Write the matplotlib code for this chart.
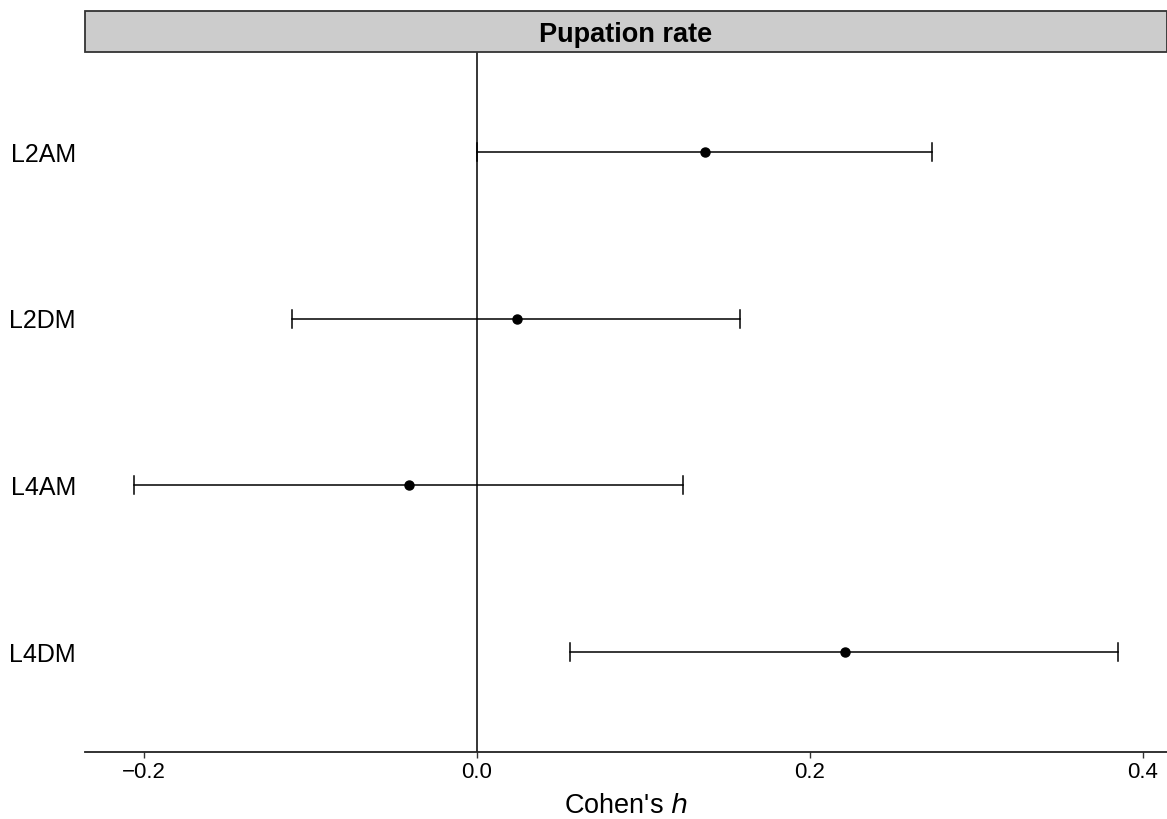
"""Forest plot of Cohen's h for pupation rate."""

import matplotlib.pyplot as plt
from matplotlib.patches import Rectangle

plt.rcParams["font.family"] = ["Liberation Sans", "DejaVu Sans"]

# data
groups = ["L2AM", "L2DM", "L4AM", "L4DM"]
estimate = [0.137, 0.024, -0.041, 0.221]
ci_low = [0.000, -0.111, -0.206, 0.056]
ci_high = [0.273, 0.158, 0.124, 0.385]
xticks = [-0.2, 0.0, 0.2, 0.4]
xtick_labels = ["\u22120.2", "0.0", "0.2", "0.4"]
panel_title = "Pupation rate"

W, H = 1167, 819
fig = plt.figure(figsize=(W / 100, H / 100), dpi=100)
ax = fig.add_axes([85 / W, 1 - 752 / H, (1167 - 85) / W, (752 - 52) / H])

ypos = list(range(1, len(groups) + 1))

ax.axvline(0, color="black", lw=1.1, zorder=1)
for y, lo, hi in zip(ypos, ci_low, ci_high):
    ax.plot([lo, hi], [y, y], color="black", lw=1.1, zorder=2)
    for x in (lo, hi):
        ax.plot([x, x], [y - 0.054, y + 0.054], color="black", lw=1.1, zorder=2)
ax.plot(estimate, ypos, "o", color="black", ms=6.5, zorder=3)

ax.set_ylim(len(groups) + 0.6, 0.4)
ax.set_xlim(-0.2354, 0.4144)
ax.set_yticks(ypos)
ax.set_yticklabels(groups, fontsize=18)
ax.set_xticks(xticks)
ax.set_xticklabels(xtick_labels, fontsize=16)
ax.tick_params(axis="y", length=0, pad=6.5, colors="black")
ax.tick_params(axis="x", length=4.5, width=1, color="#333333", pad=3)
ax.set_xlabel("Cohen's $\\mathit{h}$", fontsize=19.5, labelpad=7)

for side in ("top", "right", "left"):
    ax.spines[side].set_visible(False)
ax.spines["bottom"].set_linewidth(1.3)
ax.spines["bottom"].set_color("#222222")

# facet strip
sax = fig.add_axes([85 / W, 1 - 52 / H, (1167 - 85) / W, 41 / H])
sax.set_xlim(0, 1)
sax.set_ylim(0, 1)
sax.axis("off")
sax.add_patch(Rectangle((0, 0), 1, 1, transform=sax.transAxes, facecolor="#cccccc",
                        edgecolor="#333333", lw=1.3, clip_on=False))
sax.text(0.5, 0.42, panel_title, ha="center", va="center", fontsize=19.5,
         fontweight="bold")

fig.savefig("out.png", dpi=100)
